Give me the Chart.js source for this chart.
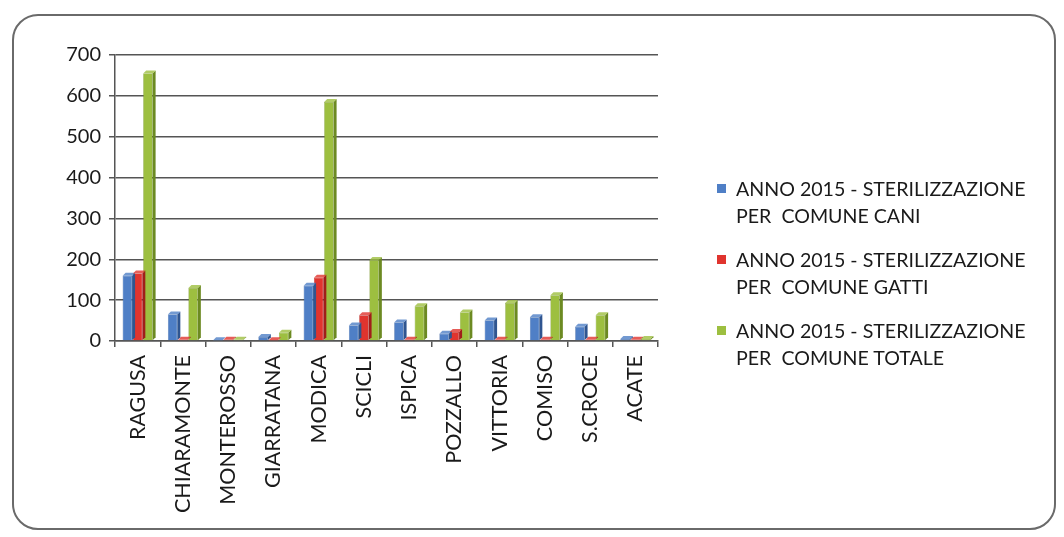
<!DOCTYPE html>
<html>
<head>
<meta charset="utf-8">
<script src="https://cdn.jsdelivr.net/npm/chart.js@4"></script>
<style>
  body { margin: 0; background: #fff; }
  #wrap { position: relative; width: 1064px; height: 537px; }
  #frame { position: absolute; left: 12px; top: 14px; width: 1044px; height: 516px;
           border: 2px solid #6a6a6a; border-radius: 26px; box-sizing: border-box; }
  #myChart { position: absolute; left: 0; top: 0; }
  #legend { position: absolute; left: 714px; top: 175px; font-family: Lato, "Open Sans", sans-serif;
            font-size: 19.6px; color: #1a1a1a; line-height: 27px; }
  .item { position: relative; padding-left: 22px; margin-bottom: 17px; white-space: nowrap; }
  .box { position: absolute; left: 3px; top: 9px; width: 9px; height: 9px; }
</style>
</head>
<body>
<div id="wrap">
  <div id="frame"></div>
  <canvas id="myChart" width="1064" height="537"></canvas>
  <div id="legend"></div>
</div>
<script>
var comuni = ['RAGUSA', 'CHIARAMONTE', 'MONTEROSSO', 'GIARRATANA', 'MODICA', 'SCICLI',
              'ISPICA', 'POZZALLO', 'VITTORIA', 'COMISO', 'S.CROCE', 'ACATE'];
var cani   = [160, 65, 2, 10, 135, 38, 45, 18, 50, 58, 35, 5];
var gatti  = [165, 3, 3, 2, 155, 63, 3, 22, 3, 3, 3, 3];
var totale = [655, 130, 3, 20, 585, 198, 85, 70, 93, 112, 63, 5];
var serieNomi = [
    ['ANNO 2015 - STERILIZZAZIONE', 'PER  COMUNE CANI'],
    ['ANNO 2015 - STERILIZZAZIONE', 'PER  COMUNE GATTI'],
    ['ANNO 2015 - STERILIZZAZIONE', 'PER  COMUNE TOTALE']
];
var colori = ['#4f7fc6', '#e0342e', '#9dbf40'];
var coloriLato = ['#2f5590', '#a01e1a', '#6c8a22'];
var yTicks = [0, 100, 200, 300, 400, 500, 600, 700];

// finto effetto 3D: lato destro e faccia superiore delle barre
const bar3d = {
    id: 'bar3d',
    afterDatasetsDraw(chart) {
        const ctx = chart.ctx;
        const d = 3;
        chart.data.datasets.forEach((ds, i) => {
            chart.getDatasetMeta(i).data.forEach(bar => {
                const l = bar.x - bar.width / 2, r = bar.x + bar.width / 2;
                ctx.save();
                ctx.fillStyle = coloriLato[i];
                ctx.beginPath();
                ctx.moveTo(r, bar.y);
                ctx.lineTo(r + d, bar.y - d);
                ctx.lineTo(r + d, bar.base - d);
                ctx.lineTo(r, bar.base);
                ctx.closePath();
                ctx.fill();
                ctx.fillStyle = colori[i];
                ctx.globalAlpha = 0.8;
                ctx.beginPath();
                ctx.moveTo(l, bar.y);
                ctx.lineTo(l + d, bar.y - d);
                ctx.lineTo(r + d, bar.y - d);
                ctx.lineTo(r, bar.y);
                ctx.closePath();
                ctx.fill();
                ctx.restore();
            });
        });
    }
};

const ctx = document.getElementById('myChart').getContext('2d');
const myChart = new Chart(ctx, {
    type: 'bar',
    data: {
        labels: comuni,
        datasets: [cani, gatti, totale].map((v, i) => ({
            label: serieNomi[i].join(' '),
            data: v,
            backgroundColor: colori[i],
            borderColor: coloriLato[i],
            borderWidth: 0.5,
            categoryPercentage: 0.68,
            barPercentage: 0.92
        }))
    },
    options: {
        responsive: false,
        animation: false,
        layout: { padding: { left: 20, right: 406, top: 55, bottom: 10 } },
        scales: {
            y: {
                min: 0, max: 700,
                afterBuildTicks: axis => { axis.ticks = yTicks.map(v => ({ value: v })); },
                afterFit: axis => { axis.width = 95; },
                ticks: { color: '#1a1a1a', padding: 8, font: { family: 'Lato', size: 20 } },
                grid: { color: '#555', lineWidth: 1.5, tickLength: 6, tickColor: '#555' },
                border: { color: '#555', width: 1.5 }
            },
            x: {
                afterFit: axis => { axis.height = 186; },
                ticks: { color: '#1a1a1a', maxRotation: 90, minRotation: 90, padding: 8,
                         font: { family: 'Lato', size: 21.5 } },
                grid: { offset: true, drawOnChartArea: false, tickLength: 6, color: '#555', lineWidth: 1.5 },
                border: { color: '#555', width: 1.5 }
            }
        },
        plugins: {
            legend: { display: false },
            tooltip: { enabled: false }
        }
    },
    plugins: [bar3d]
});

var legendHtml = '';
serieNomi.forEach((n, i) => {
    legendHtml += '<div class="item"><span class="box" style="background:' + colori[i] + '"></span>' +
        n[0] + '<br>' + n[1].replace(/ /g, '&nbsp;') + '</div>';
});
document.getElementById('legend').innerHTML = legendHtml;
</script>
</body>
</html>
